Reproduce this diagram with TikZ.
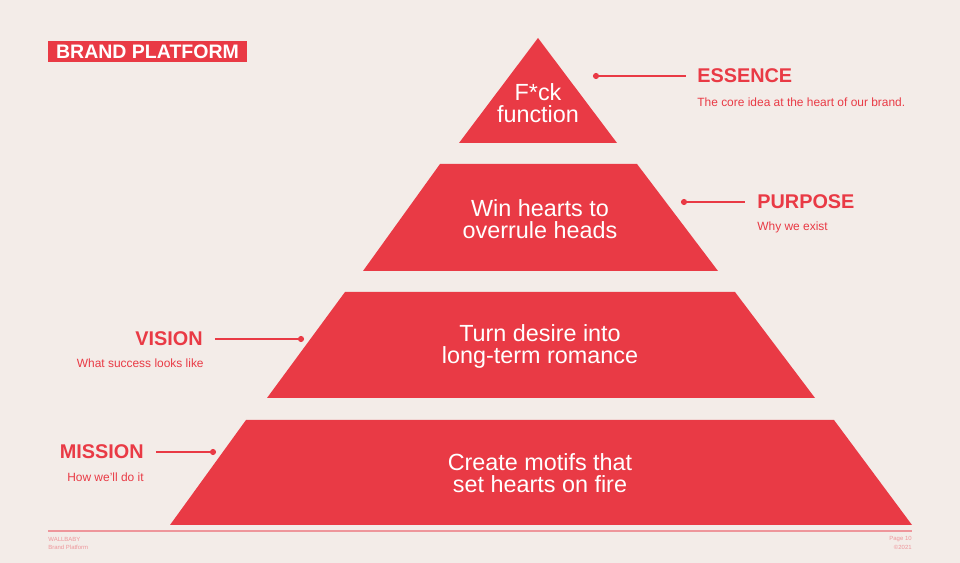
\documentclass[tikz,border=0pt]{standalone}
\usepackage{fontspec}
\setmainfont{Liberation Sans}
\definecolor{brandred}{RGB}{233,58,69}
\definecolor{paper}{RGB}{243,236,232}
\definecolor{footred}{RGB}{238,150,155}
\tikzset{
  tier/.style={fill=brandred,draw=none},
  tiertext/.style={text=white,align=center,inner sep=0pt,font=\fontsize{13.3}{12.5}\selectfont},
  heading/.style={text=brandred,inner sep=0pt,font=\bfseries\fontsize{11.3}{13}\selectfont},
  subline/.style={text=brandred,inner sep=0pt,font=\fontsize{6.8}{8}\selectfont},
  pin/.style={circle,fill=brandred,inner sep=0pt,minimum size=3.5pt},
  leader/.style={draw=brandred,line width=0.6pt},
  foot/.style={text=footred,inner sep=0pt,font=\fontsize{3.4}{4}\selectfont}
}

\begin{document}
\begin{tikzpicture}[x=0.02cm,y=-0.02cm]
    \fill[paper] (0,0) rectangle (960,563);
    \useasboundingbox (0,0) rectangle (960,563);

    \node[fill=brandred,text=white,inner sep=0pt,minimum width=3.98cm,minimum height=0.42cm,
      font=\bfseries\fontsize{11.1}{13}\selectfont] (title) at (147.5,51.5) {BRAND PLATFORM};

    % pyramid tiers
    \fill[tier] (538,38) -- (617,143) -- (459,143) -- cycle;
    \fill[tier] (440,164) -- (637,164) -- (718,271) -- (363,271) -- cycle;
    \fill[tier] (345,292) -- (735,292) -- (815,398) -- (267,398) -- cycle;
    \fill[tier] (246,420) -- (834,420) -- (912,525) -- (170,525) -- cycle;

    \node[tiertext] (essencetxt) at (538,103) {F*ck\\function};
    \node[tiertext] (purposetxt) at (540,219) {Win hearts to\\overrule heads};
    \node[tiertext] (visiontxt) at (540,346) {Turn desire into\\long-term romance};
    \node[tiertext] (missiontxt) at (540,473) {Create motifs that\\set hearts on fire};

    % essence
    \node[pin] (essencepin) at (596,76) {};
    \node[heading,anchor=west] (essence) at (697,76) {ESSENCE};
    \node[subline,anchor=west] (essencesub) at (697,102) {The core idea at the heart of our brand.};
    \draw[leader,shorten >=6.2pt] (essencepin.center) -- (essence.west);

    % purpose
    \node[pin] (purposepin) at (684,202) {};
    \node[heading,anchor=west] (purpose) at (757,202) {PURPOSE};
    \node[subline,anchor=west] (purposesub) at (757,227) {Why we exist};
    \draw[leader,shorten >=6.8pt] (purposepin.center) -- (purpose.west);

    % vision
    \node[pin] (visionpin) at (301,339) {};
    \node[heading,anchor=east] (vision) at (203,339) {VISION};
    \node[subline,anchor=east] (visionsub) at (204,363) {What success looks like};
    \draw[leader,shorten <=6.8pt] (vision.east) -- (visionpin.center);

    % mission
    \node[pin] (missionpin) at (213,452) {};
    \node[heading,anchor=east] (mission) at (144,452) {MISSION};
    \node[subline,anchor=east] (missionsub) at (144,477) {How we'll do it};
    \draw[leader,shorten <=6.8pt] (mission.east) -- (missionpin.center);

    % footer
    \coordinate (footl) at (48,531);
    \coordinate (footr) at (912,531);
    \draw[footred,line width=1.1pt] (footl) -- (footr);
    \node[foot,anchor=west] (brandname) at (48,539) {WALLBABY};
    \node[foot,anchor=west] (doctitle) at (48,547) {Brand Platform};
    \node[foot,anchor=east] (pageno) at (912,539) {Page 10};
    \node[foot,anchor=east] (year) at (912,547) {\textcopyright2021};
\end{tikzpicture}
\end{document}
